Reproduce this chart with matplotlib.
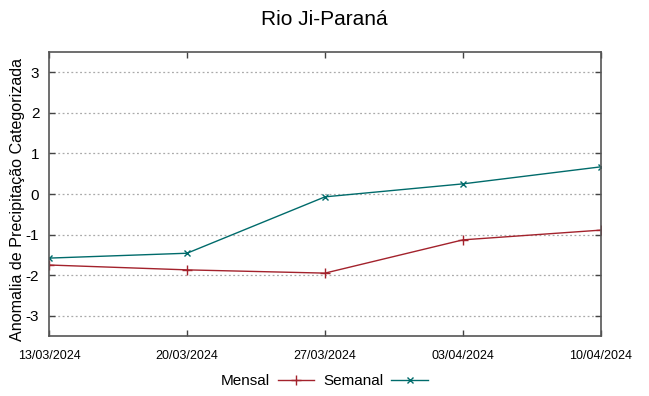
import matplotlib
matplotlib.use("Agg")
import matplotlib.pyplot as plt

plt.rcParams['font.family'] = ['Liberation Sans', 'DejaVu Sans']

datas = ["13/03/2024", "20/03/2024", "27/03/2024", "03/04/2024", "10/04/2024"]
mensal = [-1.75, -1.87, -1.95, -1.13, -0.89]
semanal = [-1.58, -1.46, -0.07, 0.25, 0.67]
yticks = [-3, -2, -1, 0, 1, 2, 3]

fig = plt.figure(figsize=(6.49, 3.96), dpi=100)
ax = fig.add_axes([0.0755, 0.1515, 0.8505, 0.7172])

x = list(range(len(datas)))
ax.plot(x, mensal, color='#a3222c', lw=1, marker='+', ms=7, mew=1, label='Mensal')
ax.plot(x, semanal, color='#006b6b', lw=1, marker='x', ms=5, mew=1, label='Semanal')

ax.set_xlim(0, len(datas) - 1)
ax.set_ylim(-3.5, 3.5)
ax.set_yticks(yticks)
ax.set_yticklabels([str(v) for v in yticks], fontsize=11)
ax.set_xticks(x)
ax.set_xticklabels(datas, fontsize=9, family=['Liberation Sans Narrow', 'Liberation Sans'])
ax.tick_params(direction='in', top=True, right=True, length=4, width=1, color='#444444')
ax.tick_params(axis='x', pad=10)
ax.tick_params(axis='y', pad=7)
ax.grid(axis='y', linestyle=(0, (1.5, 2)), color='#aaaaaa', lw=0.9)
for s in ax.spines.values():
    s.set_color('#555555')
    s.set_linewidth(1.2)

ax.set_ylabel('Anomalia de Precipitação Categorizada', fontsize=11.6)
ax.yaxis.set_label_coords(-0.043, 0.48)
fig.suptitle('Rio Ji-Paraná', fontsize=15, y=0.975)

fig.legend(loc='lower center', bbox_to_anchor=(0.5, -0.015), ncol=2, frameon=False,
           markerfirst=False, fontsize=11, handlelength=2.4, columnspacing=0.6,
           handletextpad=0.5)

fig.savefig('out.png', dpi=100)
